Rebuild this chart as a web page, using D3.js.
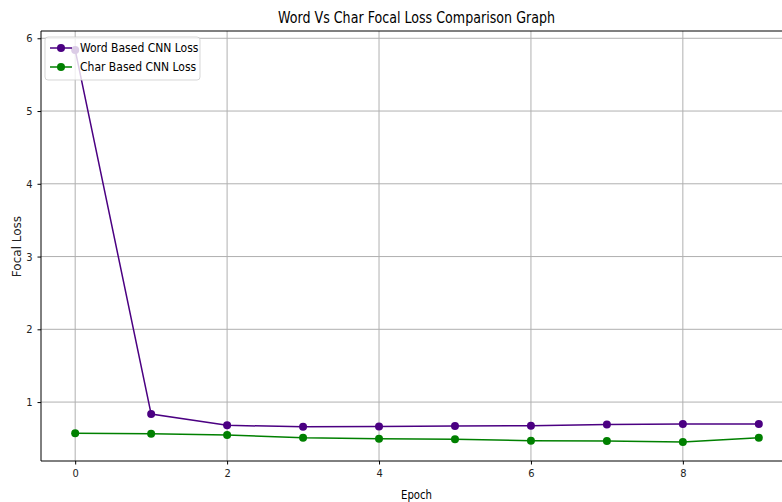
<!DOCTYPE html>
<html><head><meta charset="utf-8">
<script src="https://cdn.jsdelivr.net/npm/d3@7"></script>
<style>
body{margin:0;background:#fff;}
svg text{font-family:"DejaVu Sans Condensed","DejaVu Sans",sans-serif;font-stretch:condensed;}
</style></head>
<body><svg id="c" width="782" height="502"></svg>
<script>
const epochs = [0,1,2,3,4,5,6,7,8,9];
const wordLoss = [5.84,0.835,0.68,0.66,0.665,0.67,0.675,0.69,0.70,0.70];
const charLoss = [0.57,0.565,0.547,0.51,0.497,0.49,0.47,0.464,0.452,0.51];
const xTicks = [0,2,4,6,8];
const yTicks = [1,2,3,4,5,6];
const seriesNames = ["Word Based CNN Loss","Char Based CNN Loss"];
const seriesColors = ["#4b0082","#008000"];

const svg = d3.select("#c");
const L=41, R=793, T=31, B=461;
const x = d3.scaleLinear().domain([-0.45,9.45]).range([L,R]);
const y = d3.scaleLinear().domain([0.19,6.1]).range([B,T]);

const g = svg.append("g");
g.selectAll(".gx").data(xTicks).enter().append("line")
 .attr("x1",d=>x(d)).attr("x2",d=>x(d)).attr("y1",T).attr("y2",B)
 .attr("stroke","#b0b0b0").attr("stroke-width",1);
g.selectAll(".gy").data(yTicks).enter().append("line")
 .attr("x1",L).attr("x2",R).attr("y1",d=>y(d)).attr("y2",d=>y(d))
 .attr("stroke","#b0b0b0").attr("stroke-width",1);

const xa = svg.append("g").attr("transform",`translate(0,${B})`)
 .call(d3.axisBottom(x).tickValues(xTicks).tickSize(3.5).tickPadding(5).tickFormat(d3.format("d")));
const ya = svg.append("g").attr("transform",`translate(${L},0)`)
 .call(d3.axisLeft(y).tickValues(yTicks).tickSize(3.5).tickPadding(5).tickFormat(d3.format("d")));
[xa,ya].forEach(a=>{a.select(".domain").remove();
 a.selectAll("text").attr("font-size",11).attr("fill","#222").style("font-family",'"DejaVu Sans Condensed","DejaVu Sans",sans-serif');
 a.selectAll("line").attr("stroke","#000");});
svg.append("line").attr("x1",L).attr("x2",L).attr("y1",T).attr("y2",B).attr("stroke","#000");
svg.append("line").attr("x1",L).attr("x2",R).attr("y1",B).attr("y2",B).attr("stroke","#000");
svg.append("line").attr("x1",L).attr("x2",R).attr("y1",T).attr("y2",T).attr("stroke","#000");

const series=[wordLoss,charLoss];
const line = d3.line().x((d,i)=>x(epochs[i])).y(d=>y(d));
series.forEach((s,k)=>{
 svg.append("path").datum(s).attr("d",line).attr("fill","none")
  .attr("stroke",seriesColors[k]).attr("stroke-width",1.5);
 svg.selectAll(".p"+k).data(s).enter().append("circle")
  .attr("cx",(d,i)=>x(epochs[i])).attr("cy",d=>y(d)).attr("r",4)
  .attr("fill",seriesColors[k]);
});

const lg = svg.append("g");
lg.append("rect").attr("x",45).attr("y",37).attr("width",155).attr("height",43).attr("rx",3)
 .attr("fill","#fff").attr("fill-opacity",0.8).attr("stroke","#ccc").attr("stroke-opacity",0.8);
seriesNames.forEach((n,k)=>{
 const yy=48+k*19;
 lg.append("line").attr("x1",50).attr("x2",72).attr("y1",yy).attr("y2",yy)
  .attr("stroke",seriesColors[k]).attr("stroke-width",1.5);
 lg.append("circle").attr("cx",61).attr("cy",yy).attr("r",4).attr("fill",seriesColors[k]);
 lg.append("text").attr("x",80).attr("y",yy).attr("dy","0.35em").attr("font-size",12).attr("fill","#000").text(n);
});

svg.append("text").attr("x",416.5).attr("y",23.3).attr("text-anchor","middle")
 .attr("font-size",15.5).attr("textLength",277).attr("lengthAdjust","spacingAndGlyphs")
 .attr("fill","#000").text("Word Vs Char Focal Loss Comparison Graph");
svg.append("text").attr("x",416.5).attr("y",499).attr("text-anchor","middle")
 .attr("font-size",13).attr("textLength",31).attr("lengthAdjust","spacingAndGlyphs")
 .attr("fill","#000").text("Epoch");
svg.append("text").attr("transform","translate(17,246.5) rotate(-90)").attr("dy","0.35em").attr("text-anchor","middle")
 .style("font-family",'"DejaVu Sans",sans-serif').style("font-stretch","normal")
 .attr("font-size",12).attr("fill","#222").text("Focal Loss");
</script></body></html>
